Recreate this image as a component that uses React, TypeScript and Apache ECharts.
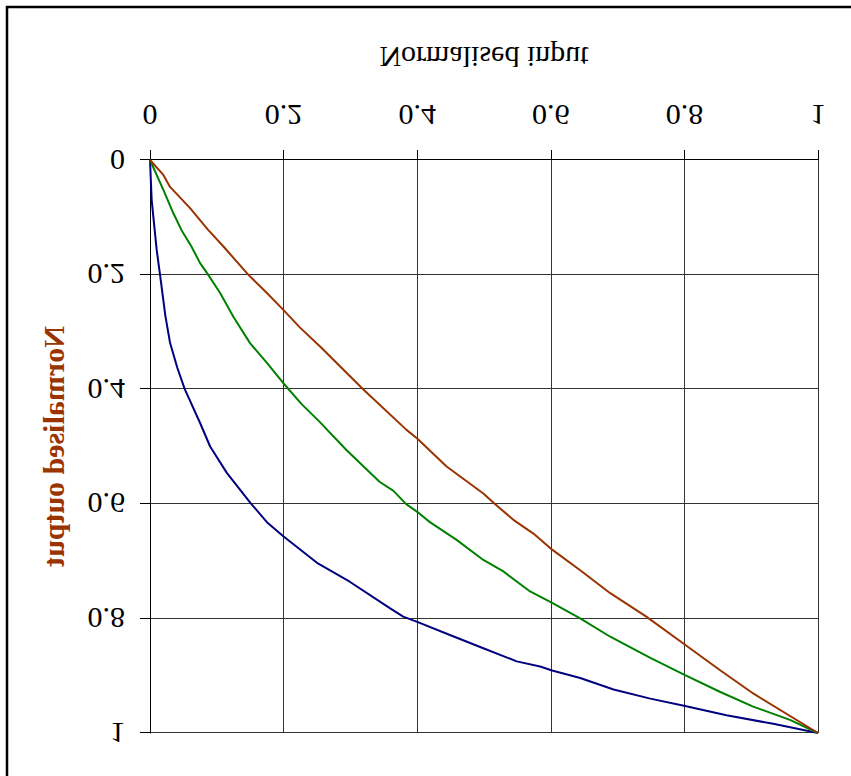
import React, { useEffect, useRef } from "react";
import * as echarts from "echarts";

const axisTicks = [0, 0.2, 0.4, 0.6, 0.8, 1];
const xTitle = "Normalised input";
const yTitle = "Normalised output";

const brownX = [0, 0.02, 0.03, 0.06, 0.087, 0.11, 0.147, 0.175, 0.2, 0.225, 0.255, 0.319, 0.384, 0.4, 0.444, 0.499, 0.516, 0.544, 0.574, 0.602, 0.644, 0.689, 0.743, 0.801, 0.853, 0.903, 1];
const brownY = [0, 0.026, 0.047, 0.084, 0.122, 0.151, 0.2, 0.232, 0.262, 0.293, 0.326, 0.4, 0.471, 0.486, 0.535, 0.582, 0.6, 0.628, 0.652, 0.68, 0.716, 0.756, 0.797, 0.846, 0.89, 0.931, 1];

const greenX = [0, 0.02, 0.035, 0.047, 0.062, 0.075, 0.087, 0.105, 0.125, 0.15, 0.175, 0.2, 0.227, 0.254, 0.294, 0.344, 0.364, 0.384, 0.4, 0.419, 0.459, 0.499, 0.529, 0.569, 0.602, 0.644, 0.689, 0.749, 0.801, 0.853, 0.903, 0.958, 1];
const greenY = [0, 0.052, 0.093, 0.122, 0.151, 0.18, 0.2, 0.232, 0.274, 0.32, 0.354, 0.39, 0.426, 0.457, 0.506, 0.562, 0.577, 0.601, 0.614, 0.632, 0.663, 0.698, 0.718, 0.753, 0.773, 0.8, 0.832, 0.869, 0.899, 0.928, 0.954, 0.977, 1];

const blueX = [0, 0.0025, 0.01, 0.015, 0.023, 0.03, 0.041, 0.052, 0.075, 0.09, 0.115, 0.15, 0.175, 0.2, 0.25, 0.299, 0.359, 0.379, 0.4, 0.449, 0.499, 0.549, 0.584, 0.602, 0.644, 0.694, 0.749, 0.801, 0.863, 0.933, 1];
const blueY = [0, 0.07, 0.157, 0.2, 0.272, 0.319, 0.363, 0.4, 0.459, 0.5, 0.546, 0.598, 0.632, 0.657, 0.703, 0.736, 0.782, 0.797, 0.806, 0.829, 0.852, 0.875, 0.884, 0.891, 0.904, 0.924, 0.94, 0.953, 0.969, 0.984, 1];

const zip = (xs: number[], ys: number[]) => xs.map((x, i) => [x, ys[i]]);

const FONT = "'Liberation Serif', 'Times New Roman', serif";

export default function App() {
  const ref = useRef<HTMLDivElement>(null);
  useEffect(() => {
    if (!ref.current) return;
    const chart = echarts.init(ref.current, null, { renderer: "svg" });
    const tickMin = axisTicks[0];
    const tickMax = axisTicks[axisTicks.length - 1];
    const tickStep = axisTicks[1] - axisTicks[0];
    const axisCommon = {
      type: "value",
      min: tickMin,
      max: tickMax,
      interval: tickStep,
      axisLine: { show: true, onZero: false, lineStyle: { color: "#000", width: 1 } },
      axisTick: { show: true, inside: false, length: 10, lineStyle: { color: "#000", width: 1 } },
      splitLine: { show: true, lineStyle: { color: "#333", width: 1 } },
      nameLocation: "middle",
    };
    chart.setOption({
      animation: false,
      backgroundColor: "#fff",
      grid: { left: 150, right: 33, top: 43, bottom: 160, containLabel: false },
      graphic: [
        {
          type: "rect",
          shape: { x: 7, y: -20, width: 1000, height: 789 },
          style: { fill: "none", stroke: "#000", lineWidth: 2.5 },
          silent: true,
        },
      ],
      xAxis: {
        ...axisCommon,
        position: "bottom",
        axisLabel: { fontSize: 30, fontFamily: FONT, color: "#000", margin: 30 },
        name: xTitle,
        nameGap: 88,
        nameTextStyle: { fontSize: 30, fontFamily: FONT, color: "#000" },
      },
      yAxis: {
        ...axisCommon,
        position: "left",
        axisLabel: { fontSize: 30, fontFamily: FONT, color: "#000", margin: 25 },
        name: yTitle,
        nameGap: 82,
        nameTextStyle: { fontSize: 30, fontFamily: FONT, color: "#993300", fontWeight: "bold" },
      },
      series: [
        {
          type: "line",
          data: zip(blueX, blueY),
          showSymbol: false,
          lineStyle: { color: "#000080", width: 2 },
          itemStyle: { color: "#000080" },
        },
        {
          type: "line",
          data: zip(greenX, greenY),
          showSymbol: false,
          lineStyle: { color: "#008000", width: 2 },
          itemStyle: { color: "#008000" },
        },
        {
          type: "line",
          data: zip(brownX, brownY),
          showSymbol: false,
          lineStyle: { color: "#993300", width: 2 },
          itemStyle: { color: "#993300" },
        },
      ],
    });
    return () => chart.dispose();
  }, []);
  return (
    <div
      ref={ref}
      style={{
        position: "absolute",
        left: 0,
        top: 0,
        width: 851,
        height: 776,
        transform: "scaleY(-1)",
        background: "#fff",
      }}
    />
  );
}
